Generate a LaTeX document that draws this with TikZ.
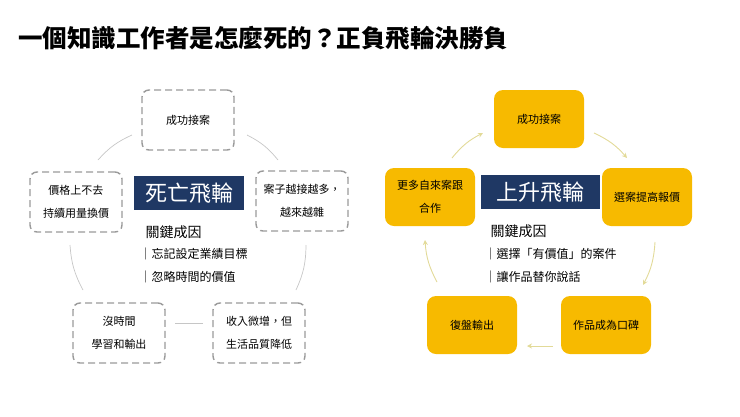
\documentclass[tikz,border=0pt]{standalone}
\usepackage{fontspec}
\setmainfont{Noto Sans CJK TC}
\usetikzlibrary{arrows.meta}
\definecolor{gold}{HTML}{F7BA00}
\definecolor{navy}{HTML}{1F3864}
\definecolor{arrowy}{HTML}{E2DA98}
\definecolor{dgray}{HTML}{9A9A9A}
\tikzset{
  dbox/.style={draw=dgray,line width=1.4pt,dash pattern=on 7pt off 4pt,rounded corners=7pt,minimum width=92pt,minimum height=60pt,align=center,font=\fontsize{11}{23}\selectfont},
  gbox/.style={fill=gold,rounded corners=9pt,minimum width=90pt,minimum height=58pt,align=center,font=\fontsize{11}{23}\selectfont},
  ttl/.style={fill=navy,text=white,minimum height=34pt,font=\fontsize{22}{24}\selectfont},
  garc/.style={draw=gray!45,line width=0.7pt},
  yarc/.style={draw=arrowy,line width=0.9pt,-{Stealth[length=5pt,width=5pt]}},
  kt/.style={anchor=west,font=\fontsize{14}{16}\selectfont},
  kl/.style={anchor=west,font=\fontsize{12}{14}\selectfont},
}
\begin{document}
\begin{tikzpicture}[x=1pt,y=-1pt]
\useasboundingbox (0,0) rectangle (740,416);
\node[anchor=west,inner sep=0pt,font=\fontsize{24.5}{27}\selectfont\bfseries] (title) at (18,38) {一個知識工作者是怎麼死的？正負飛輪決勝負};
% left wheel
\node[dbox] (lt) at (188,120) {成功接案};
\node[dbox] (ll) at (76,202) {價格上不去\\持續用量換價};
\node[dbox] (lr) at (302,201) {案子越接越多，\\越來越雜};
\node[dbox] (lbl) at (119,333) {沒時間\\學習和輸出};
\node[dbox] (lbr) at (259,333) {收入微增，但\\生活品質降低};
\node[ttl,minimum width=110pt] (lttl) at (189,193) {死亡飛輪};
\node[kt] (lk) at (142,232) {關鍵成因};
\node[kl] (l1) at (136,254) {｜忘記設定業績目標};
\node[kl] (l2) at (136,277) {｜忽略時間的價值};
\coordinate (a1) at (98,160); \coordinate (a2) at (132,135);
\coordinate (b1) at (247,135); \coordinate (b2) at (278,160);
\coordinate (c1) at (306,245); \coordinate (c2) at (296,290);
\coordinate (d1) at (203,323); \coordinate (d2) at (175,323);
\coordinate (e1) at (83,290); \coordinate (e2) at (70,245);
\draw[garc] (a1) to[bend left=12] (a2);
\draw[garc] (b1) to[bend left=12] (b2);
\draw[garc] (c1) to[bend left=12] (c2);
\draw[garc] (d1) -- (d2);
\draw[garc] (e1) to[bend left=12] (e2);
% right wheel
\node[gbox] (rt) at (539,119) {成功接案};
\node[gbox] (rl) at (430,197) {更多自來案跟\\合作};
\node[gbox] (rr) at (647,197) {選案提高報價};
\node[gbox] (rbl) at (472,325) {復盤輸出};
\node[gbox] (rbr) at (606,325) {作品成為口碑};
\node[ttl,minimum width=119pt] (rttl) at (540,192) {上升飛輪};
\node[kt] (rk) at (487,231) {關鍵成因};
\node[kl] (r1) at (481,254) {｜選擇「有價值」的案件};
\node[kl] (r2) at (481,277) {｜讓作品替你說話};
\coordinate (f1) at (452,158); \coordinate (f2) at (483,133);
\coordinate (g1) at (594,133); \coordinate (g2) at (627,158);
\coordinate (h1) at (655,242); \coordinate (h2) at (643,285);
\coordinate (i1) at (553,346); \coordinate (i2) at (527,346);
\coordinate (j1) at (437,282); \coordinate (j2) at (425,240);
\draw[yarc] (f1) to[bend left=12] (f2);
\draw[yarc] (g1) to[bend left=12] (g2);
\draw[yarc] (h1) to[bend left=12] (h2);
\draw[yarc] (i1) -- (i2);
\draw[yarc] (j1) to[bend left=12] (j2);
\end{tikzpicture}
\end{document}
